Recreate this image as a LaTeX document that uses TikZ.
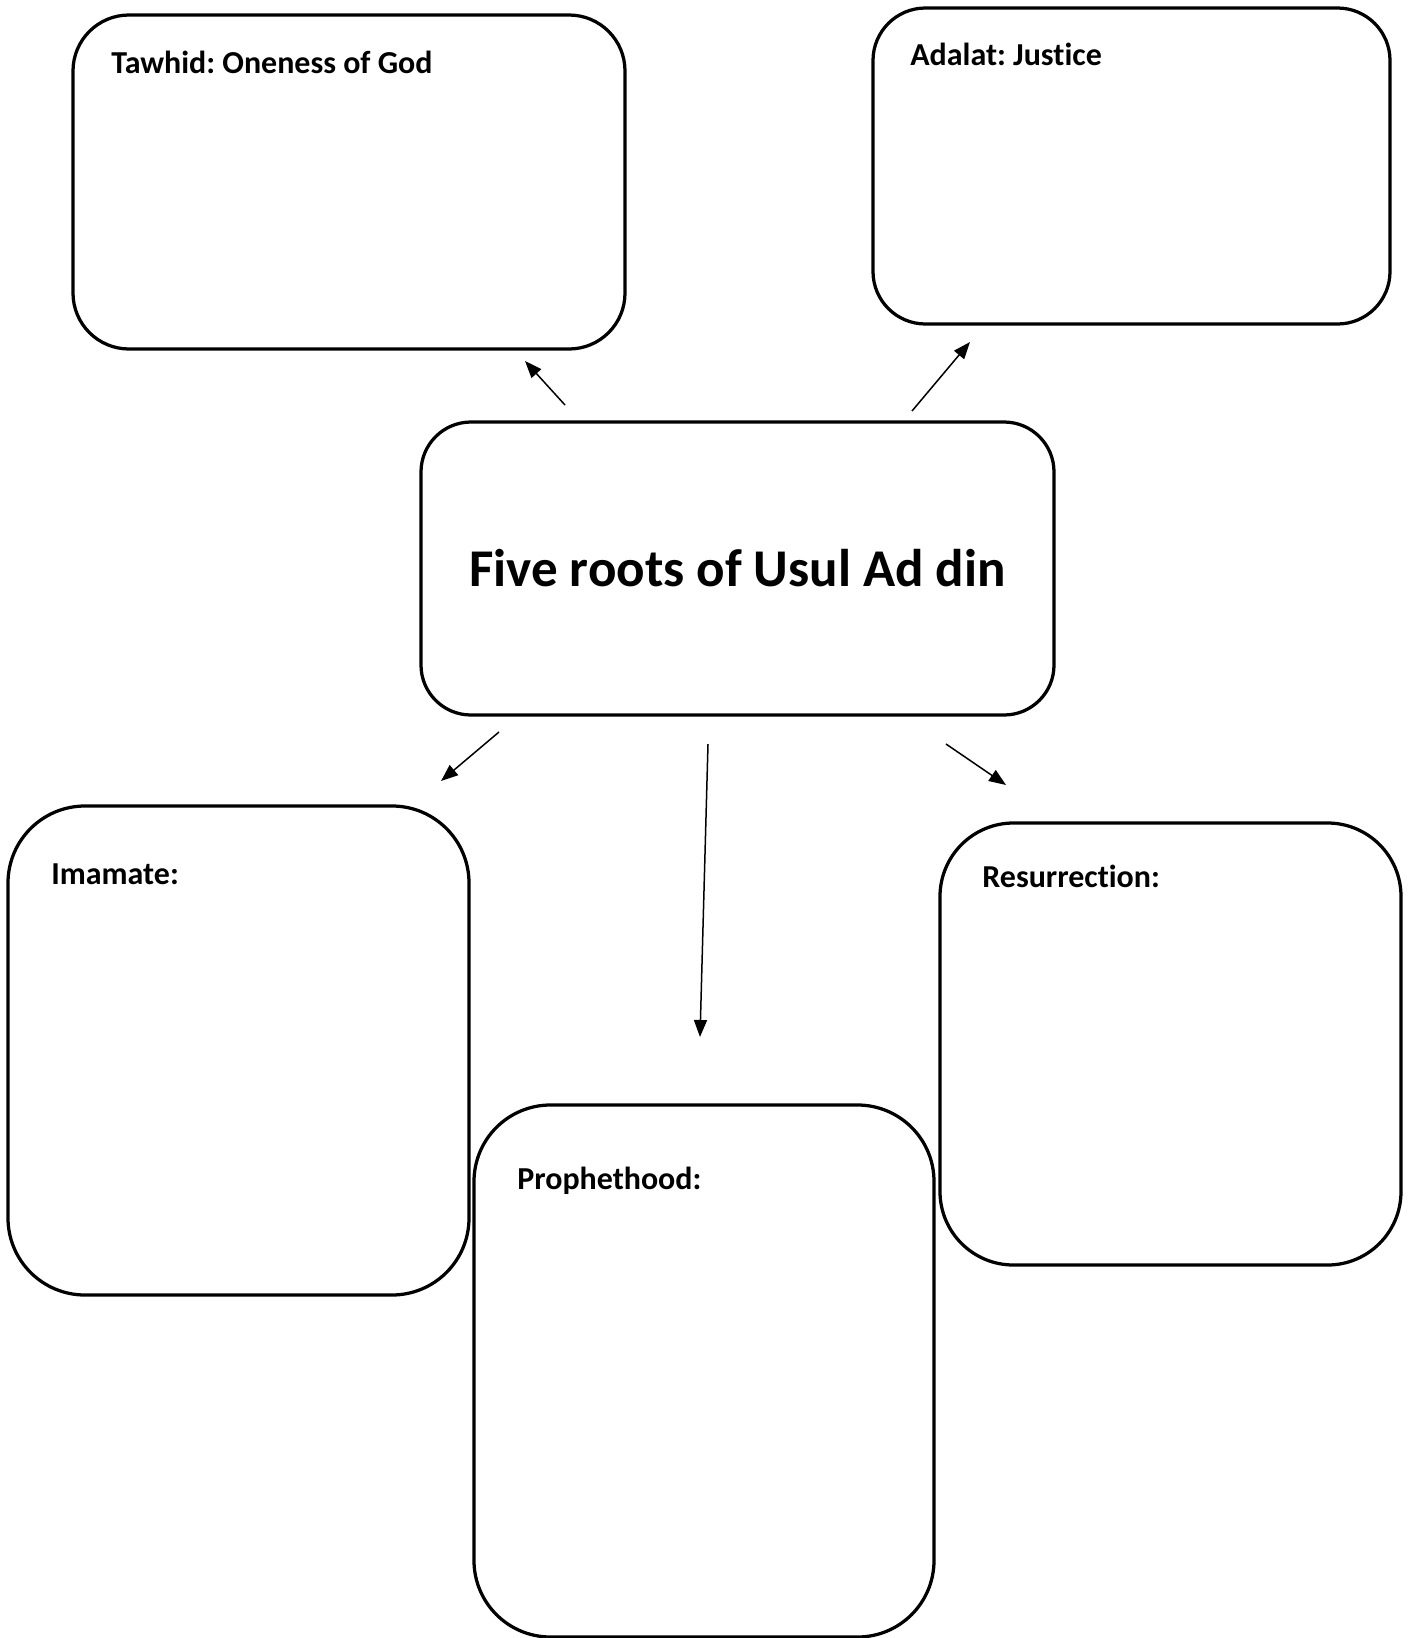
\documentclass[tikz,border=0pt]{standalone}
\usepackage{fontspec}
\setmainfont{Carlito}[Ligatures={NoCommon}]
\frenchspacing
\usetikzlibrary{arrows.meta}

\tikzset{
	rootbox/.style={shape=rectangle, draw=black, line width=0.065cm, inner sep=0pt, outer sep=0pt},
	rootlabel/.style={anchor=base west, inner sep=0pt, font=\fontsize{18.2}{22}\selectfont\bfseries},
	rootarrow/.style={line width=0.03cm, -{Triangle[length=0.34cm, width=0.26cm]}}
}

\begin{document}
\begin{tikzpicture}
	\useasboundingbox (0,0) rectangle (28.2,-32.76);

	\node[rootbox, rounded corners=1.0cm, minimum width=12.66cm, minimum height=5.86cm,
	      font=\fontsize{30.2}{36}\selectfont\bfseries] (root) at (14.75,-11.37) {Five roots of Usul Ad din};

	\node[rootbox, rounded corners=1.12cm, minimum width=11.04cm, minimum height=6.68cm] (tawhid) at (6.98,-3.64)   {};
	\node[rootbox, rounded corners=1.05cm, minimum width=10.34cm, minimum height=6.32cm] (adalat) at (22.63,-3.32)  {};
	\node[rootbox, rounded corners=1.54cm, minimum width=9.22cm,  minimum height=9.78cm] (imamate) at (4.77,-21.01) {};
	\node[rootbox, rounded corners=1.53cm, minimum width=9.20cm,  minimum height=10.64cm] (prophet) at (14.08,-27.42) {};
	\node[rootbox, rounded corners=1.47cm, minimum width=9.22cm,  minimum height=8.84cm] (resur) at (23.41,-20.88)  {};

	\node[rootlabel] (tawhidtext)  at (2.22,-1.46)   {Tawhid: Oneness of God};
	\node[rootlabel] (adalattext)  at (18.2,-1.30)   {Adalat: Justice};
	\node[rootlabel] (imamatetext) at (1.02,-17.68)  {Imamate:};
	\node[rootlabel] (resurtext)   at (19.64,-17.74) {Resurrection:};
	\node[rootlabel] (prophettext) at (10.34,-23.78) {Prophethood:};

	\coordinate (t0) at (11.30,-8.10);  \coordinate (t1) at (10.50,-7.22);
	\coordinate (a0) at (18.24,-8.22);  \coordinate (a1) at (19.40,-6.84);
	\coordinate (i0) at (9.98,-14.64);  \coordinate (i1) at (8.82,-15.62);
	\coordinate (p0) at (14.16,-14.88); \coordinate (p1) at (14.00,-20.74);
	\coordinate (r0) at (18.92,-14.88); \coordinate (r1) at (20.12,-15.70);

	\path [rootarrow] (t0) edge (t1);
	\path [rootarrow] (a0) edge (a1);
	\path [rootarrow] (i0) edge (i1);
	\path [rootarrow] (p0) edge (p1);
	\path [rootarrow] (r0) edge (r1);
\end{tikzpicture}
\end{document}
